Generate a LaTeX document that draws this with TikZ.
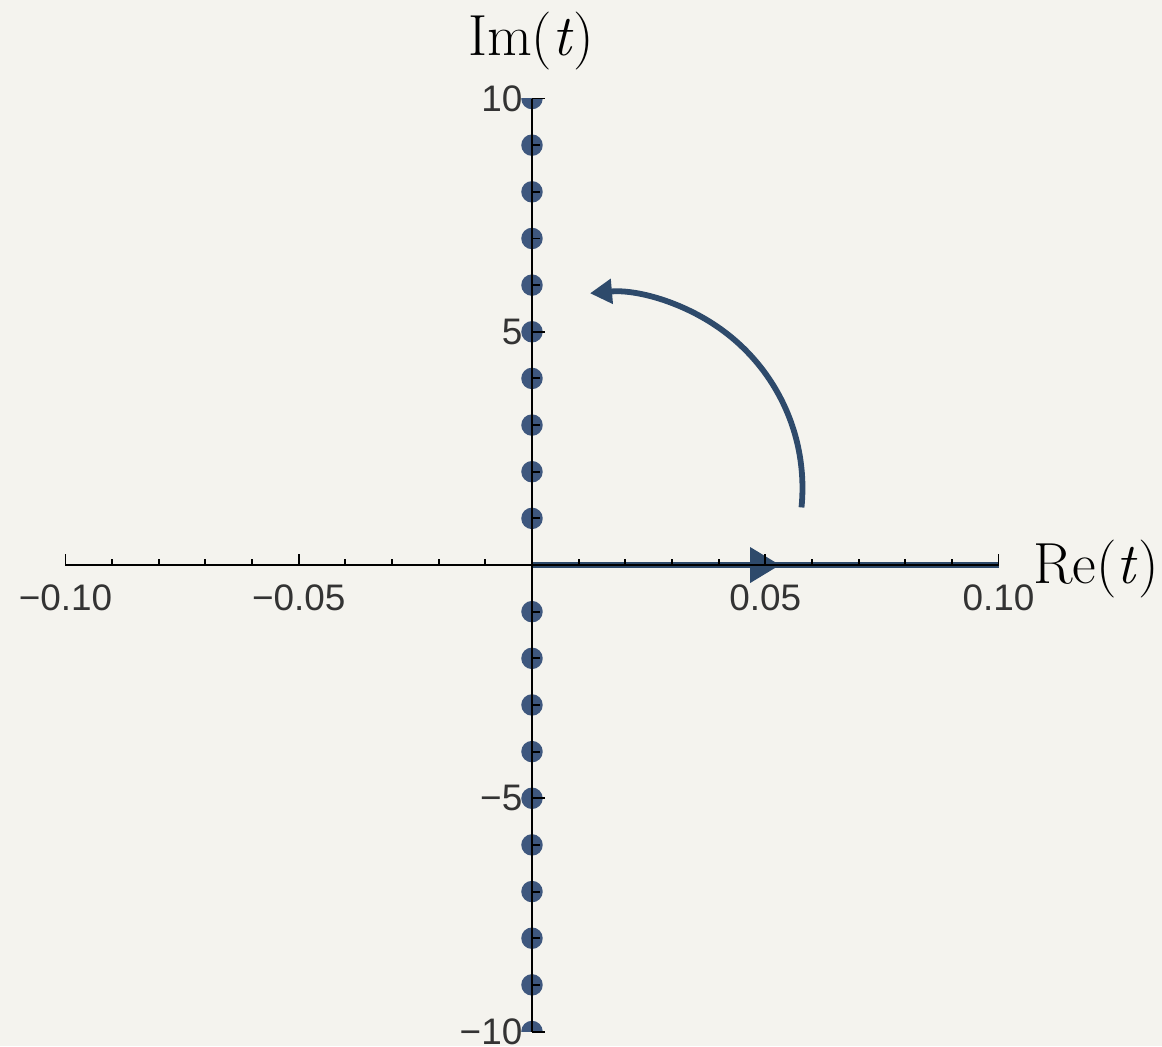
\documentclass[tikz,border=0pt]{standalone}
\usepackage{fontspec}
\newfontfamily\ticksf{Liberation Sans}
\usetikzlibrary{arrows.meta, decorations.markings}
\definecolor{paper}{RGB}{244,243,238}
\definecolor{poleblue}{RGB}{62,87,126}
\definecolor{contourblue}{RGB}{46,74,107}
\definecolor{labgray}{RGB}{51,51,51}

\begin{document}
\begin{tikzpicture}[x=0.933cm, y=0.933cm,
    axis/.style={line width=1.6pt, black},
    tick/.style={line width=1.1pt, black},
    ticklab/.style={font=\ticksf\fontsize{21}{21}\selectfont, text=labgray, inner sep=0pt},
    axlab/.style={font=\fontsize{33}{33}\selectfont, inner sep=0pt},
    pole/.style={circle, fill=poleblue, inner sep=0pt, minimum size=0.43cm},
    contour/.style={line width=3.8pt, draw=contourblue}
  ]
  % background and page size
  \path[use as bounding box, fill=paper] (-11.404,-10.311) rectangle (13.505,12.112);

  \coordinate (o) at (0,0);
  \coordinate (xl) at (-10,0);
  \coordinate (xr) at (10,0);
  \coordinate (yb) at (0,-10);
  \coordinate (yt) at (0,10);
  \coordinate (c) at (1.608,1.651);

  % poles on the imaginary axis
  \begin{scope}
    \clip (-10,-10) rectangle (10,10);
    \foreach \k in {-10,...,-1,1,2,...,10}
      \node[pole] (p\k) at (0,\k) {};
  \end{scope}

  % contour
  \draw[contour, postaction={decorate},
    decoration={markings, mark=at position 0.532 with {\arrow{Triangle[length=0.6cm, width=0.68cm]}}}]
    (o) -- (xr);
  \draw[contour, line width=3.3pt, -{Triangle[length=0.44cm, width=0.48cm]}]
    ([shift={(-5.7:4.19)}]c) arc[start angle=-5.7, end angle=95, radius=4.19];

  % axes
  \draw[axis] (xl) -- (xr);
  \draw[axis] (yb) -- (yt);
  \foreach \i in {-10,...,10} {
    \pgfmathsetmacro{\len}{ifthenelse(mod(abs(\i),5)==0, 0.22, 0.13)}
    \draw[tick] (\i,0) -- ++(0,\len cm);
    \pgfmathsetmacro{\len}{ifthenelse(mod(abs(\i),5)==0, 0.26, 0.16)}
    \draw[tick] (0,\i) -- ++(\len cm,0);
  }

  % tick labels
  \node[ticklab] (xm10) at (-10,-0.70) {−0.10};
  \node[ticklab] (xm5) at (-5,-0.70) {−0.05};
  \node[ticklab] (x5) at (5,-0.70) {0.05};
  \node[ticklab] (x10) at (10,-0.70) {0.10};
  \node[ticklab, anchor=east] (y10) at (-0.2,10) {10};
  \node[ticklab, anchor=east] (y5) at (-0.2,5) {5};
  \node[ticklab, anchor=east] (ym5) at (-0.2,-5) {−5};
  \node[ticklab, anchor=east] (ym10) at (-0.2,-10) {−10};

  % axis labels
  \node[axlab] (imlab) at (-0.02,11.23) {Im(\textit{t})};
  \node[axlab] (relab) at (12.09,-0.09) {Re(\textit{t})};
\end{tikzpicture}
\end{document}
